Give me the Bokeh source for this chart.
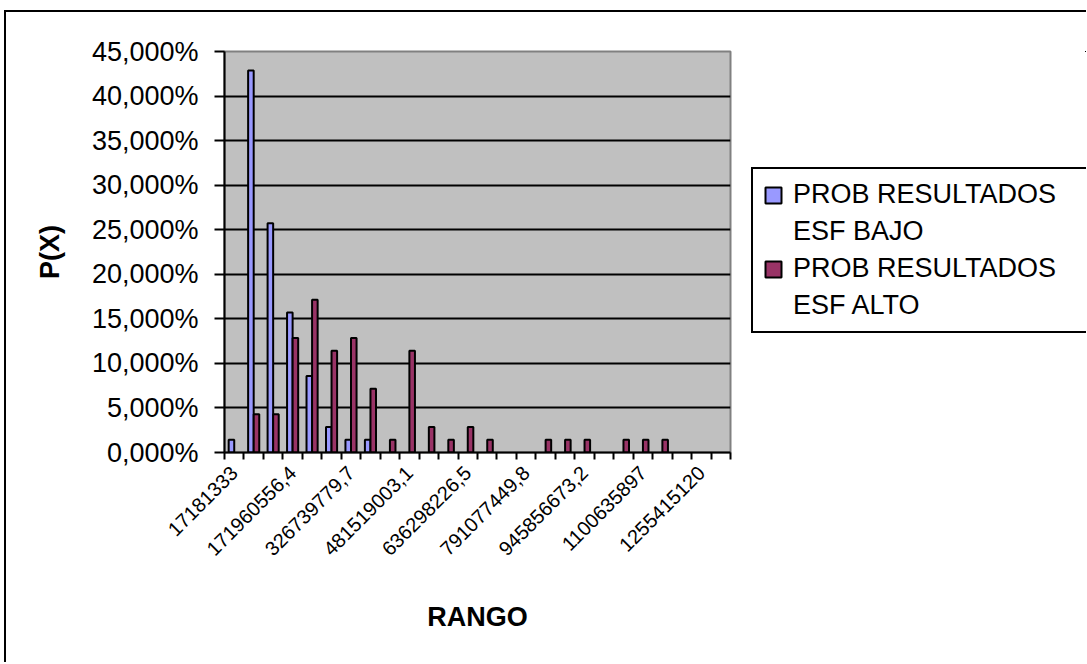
import math
from bokeh.plotting import figure
from bokeh.layouts import row, column
from bokeh.models import (ColumnDataSource, Range1d, FixedTicker, Legend, LegendItem,
                          CDSView, BooleanFilter, Spacer, Div)
from bokeh.transform import dodge
from bokeh.embed import file_html
from bokeh.resources import INLINE

# ---------------- data ----------------
categories = [
    "17181333", "68774407,46", "120367481,9", "171960556,4", "223553630,8",
    "275146705,3", "326739779,7", "378332854,2", "429925928,7", "481519003,1",
    "533112077,6", "584705152", "636298226,5", "687891301", "739484375,4",
    "791077449,8", "842670524,3", "894263598,8", "945856673,2", "997449747,7",
    "1049042822", "1100635897", "1152228971", "1203822046", "1255415120",
    "1307008194",
]
label_every = 3

prob_bajo = [1.429, 42.857, 25.714, 15.714, 8.571, 2.857, 1.429, 1.429, 0, 0,
             0, 0, 0, 0, 0, 0, 0, 0, 0, 0,
             0, 0, 0, 0, 0, 0]
prob_alto = [0, 4.286, 4.286, 12.857, 17.143, 11.429, 12.857, 7.143, 1.429, 11.429,
             2.857, 1.429, 2.857, 1.429, 0, 0, 1.429, 1.429, 1.429, 0,
             1.429, 1.429, 1.429, 0, 0, 0]

y_ticks = [0, 5, 10, 15, 20, 25, 30, 35, 40, 45]
y_tick_labels = ["0,000%", "5,000%", "10,000%", "15,000%", "20,000%",
                 "25,000%", "30,000%", "35,000%", "40,000%", "45,000%"]

series_names = [("PROB RESULTADOS", "ESF BAJO"), ("PROB RESULTADOS", "ESF ALTO")]
colors = ["#9999FF", "#993366"]

# ---------------- main chart ----------------
FONT = "Liberation Sans"
H = 650
n = len(categories)
idx = list(range(1, n + 1))
src = ColumnDataSource(dict(x=idx, cat=categories, bajo=prob_bajo, alto=prob_alto))

fig = figure(width=726, height=H, output_backend="svg", toolbar_location=None,
             x_range=Range1d(0.5, n + 0.5), y_range=Range1d(y_ticks[0], y_ticks[-1]),
             min_border_left=218, min_border_right=2, min_border_top=39,
             min_border_bottom=H - 39 - 401, margin=0)
fig.background_fill_color = "#C0C0C0"
fig.border_fill_color = "white"
fig.outline_line_color = "#808080"
fig.outline_line_width = 2

bw = 1 / 3.5
fig.vbar(x=dodge("x", -bw / 2), top="bajo", width=bw, source=src,
         view=CDSView(filter=BooleanFilter([v > 0 for v in prob_bajo])),
         fill_color=colors[0], line_color="black", line_width=2)
fig.vbar(x=dodge("x", bw / 2), top="alto", width=bw, source=src,
         view=CDSView(filter=BooleanFilter([v > 0 for v in prob_alto])),
         fill_color=colors[1], line_color="black", line_width=2)

fig.xgrid.visible = False
fig.ygrid.ticker = FixedTicker(ticks=y_ticks[1:-1])
fig.ygrid.grid_line_color = "black"
fig.ygrid.grid_line_width = 2

label_pos = idx[::label_every]
xa = fig.xaxis[0]
xa.ticker = FixedTicker(ticks=label_pos, minor_ticks=[i - 0.5 for i in idx] + [n + 0.5])
xa.major_label_overrides = {pos: categories[pos - 1] for pos in label_pos}
xa.major_tick_out = 0
xa.major_tick_in = 0
xa.minor_tick_out = 7
xa.minor_tick_in = 0
xa.minor_tick_line_color = "black"
xa.minor_tick_line_width = 2
xa.axis_line_color = "black"
xa.axis_line_width = 2
xa.major_label_orientation = math.pi / 4
xa.major_label_text_font = FONT
xa.major_label_text_font_size = "20px"
xa.major_label_text_color = "black"
xa.major_label_standoff = 10
xa.axis_label = "RANGO"
xa.axis_label_text_font = FONT
xa.axis_label_text_font_style = "bold"
xa.axis_label_text_font_size = "27px"
xa.axis_label_text_color = "black"
xa.axis_label_standoff = 37

ya = fig.yaxis[0]
ya.ticker = FixedTicker(ticks=y_ticks, minor_ticks=[])
ya.major_label_overrides = {t: l for t, l in zip(y_ticks, y_tick_labels)}
ya.major_tick_out = 10
ya.major_tick_in = 0
ya.major_tick_line_color = "black"
ya.major_tick_line_width = 2
ya.minor_tick_out = 0
ya.minor_tick_in = 0
ya.axis_line_color = "black"
ya.axis_line_width = 2
ya.major_label_text_font = FONT
ya.major_label_text_font_size = "27px"
ya.major_label_text_color = "black"
ya.major_label_standoff = 16
ya.axis_label = "P(X)"
ya.axis_label_text_font = FONT
ya.axis_label_text_font_style = "bold"
ya.axis_label_text_font_size = "27px"
ya.axis_label_text_color = "black"
ya.axis_label_standoff = 24

# ---------------- legend panel ----------------
# The legend's renderers share the chart data, but this panel's view window
# shows none of it, so only the legend itself is visible.
leg_fig = figure(width=354, height=H, output_backend="svg", toolbar_location=None,
                 x_axis_location=None, y_axis_location=None,
                 x_range=Range1d(-2, -1), y_range=Range1d(-2, -1),
                 min_border_left=0, min_border_right=0, min_border_top=0,
                 min_border_bottom=0, margin=0)
leg_fig.outline_line_color = None
leg_fig.xgrid.visible = False
leg_fig.ygrid.visible = False
lb = leg_fig.vbar(x="x", top="bajo", width=bw, source=src,
                  fill_color=colors[0], line_color="black", line_width=2)
lr = leg_fig.vbar(x="x", top="alto", width=bw, source=src,
                  fill_color=colors[1], line_color="black", line_width=2)
lg = leg_fig.vbar(x="x", top="alto", width=bw, source=src,
                  fill_alpha=0, line_alpha=0)

legend = Legend(items=[
    LegendItem(label=series_names[0][0], renderers=[lb]),
    LegendItem(label=series_names[0][1], renderers=[lg]),
    LegendItem(label=series_names[1][0], renderers=[lr]),
    LegendItem(label=series_names[1][1], renderers=[lg]),
], location=(19, 119), label_text_font=FONT, label_text_font_size="27px",
    label_text_color="black", glyph_width=20, glyph_height=20, label_height=31,
    label_width=320, spacing=6, padding=10, margin=0, label_standoff=10,
    border_line_color="black", border_line_width=2, border_line_alpha=1,
    background_fill_color="white", background_fill_alpha=1)
leg_fig.add_layout(legend, "center")

# ---------------- chart-area border (left and top only are in view) ----------------
top_bar = Div(width=2 + 726 + 354, height=2, margin=0,
              styles={"background-color": "black"})
left_bar = Div(width=2, height=H, margin=0, styles={"background-color": "black"})

inner = column(top_bar, row(left_bar, fig, leg_fig, spacing=0, margin=0),
               spacing=0, margin=0)
p = column(Spacer(height=10, margin=0),
           row(Spacer(width=4, margin=0), inner, spacing=0, margin=0),
           spacing=0, margin=0)

open("out.html", "w").write(file_html(p, INLINE))
